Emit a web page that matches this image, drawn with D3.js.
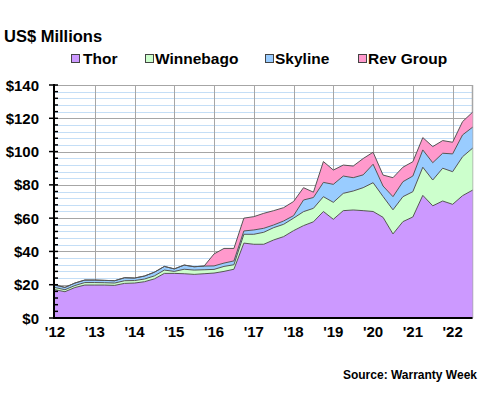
<!DOCTYPE html>
<html>
<head>
<meta charset="utf-8">
<script src="https://cdn.jsdelivr.net/npm/d3@7"></script>
<style>
  body { margin: 0; background: #fff; }
  svg { display: block; font-family: "Liberation Sans", Arial, sans-serif; font-weight: bold; }
</style>
</head>
<body>
<svg id="chart" width="480" height="400"></svg>
<script>
// ---- Data (US$ millions, quarterly) ----
const quarters = [2012, 2012.25, 2012.5, 2012.75, 2013, 2013.25, 2013.5, 2013.75, 2014, 2014.25,
  2014.5, 2014.75, 2015, 2015.25, 2015.5, 2015.75, 2016, 2016.25, 2016.5, 2016.75,
  2017, 2017.25, 2017.5, 2017.75, 2018, 2018.25, 2018.5, 2018.75, 2019, 2019.25,
  2019.5, 2019.75, 2020, 2020.25, 2020.5, 2020.75, 2021, 2021.25, 2021.5, 2021.75,
  2022, 2022.25, 2022.5];
const thor = [17.0, 15.8, 18.3, 19.8, 19.8, 19.8, 19.6, 20.8, 21.0, 21.8,
  23.5, 26.8, 26.8, 26.6, 26.2, 26.6, 27.0, 28.0, 29.3, 45.0,
  44.3, 44.3, 46.9, 48.9, 52.5, 55.5, 57.8, 64.0, 59.3, 64.5,
  64.9, 64.5, 64.0, 60.5, 50.5, 57.9, 60.7, 73.7, 67.4, 70.3,
  68.3, 73.5, 76.8];
const winnebago = [1.3, 1.2, 1.2, 1.5, 1.5, 1.4, 1.4, 1.6, 1.5, 1.6,
  1.8, 2.0, 1.2, 2.7, 2.6, 2.4, 2.2, 3.0, 2.7, 5.3,
  6.0, 7.2, 7.4, 7.4, 7.5, 8.4, 8.1, 8.9, 10.2, 10.4,
  11.4, 13.8, 17.3, 12.5, 14.5, 15.0, 15.2, 16.9, 15.5, 19.7,
  19.6, 23.4, 25.2];
const skyline = [1.5, 1.4, 1.5, 1.5, 1.5, 1.4, 1.4, 1.8, 1.5, 1.8,
  2.2, 2.2, 1.5, 2.5, 2.0, 2.2, 2.1, 2.0, 2.3, 2.0,
  2.6, 2.4, 1.6, 2.0, 1.5, 7.0, 6.5, 8.6, 10.8, 10.4,
  8.0, 7.7, 11.1, 6.3, 7.9, 9.0, 9.4, 10.4, 10.4, 9.0,
  10.7, 13.1, 12.6];
const revGroup = [0, 0, 0, 0, 0, 0, 0, 0, 0, 0,
  0, 0, 0, 0, 0, 0, 7.2, 8.8, 7.5, 7.7,
  8.0, 9.0, 8.6, 8.0, 8.5, 7.4, 3.2, 12.5, 8.6, 6.6,
  7.0, 9.8, 7.2, 6.6, 11.4, 8.7, 8.6, 7.4, 9.7, 7.6,
  7.0, 8.0, 9.0];
const seriesNames = ["Thor", "Winnebago", "Skyline", "Rev Group"];
const seriesColors = ["#cc99ff", "#ccffcc", "#99ccff", "#ff99cc"];
const yearTicks = [2012, 2013, 2014, 2015, 2016, 2017, 2018, 2019, 2020, 2021, 2022];
const yearLabels = ["'12", "'13", "'14", "'15", "'16", "'17", "'18", "'19", "'20", "'21", "'22"];
const yMajor = [0, 20, 40, 60, 80, 100, 120, 140];

// ---- Build table ----
const keys = seriesNames;
const cols = [thor, winnebago, skyline, revGroup];
const table = quarters.map((q, i) => {
  const row = { q };
  keys.forEach((k, j) => row[k] = cols[j][i]);
  return row;
});

const svg = d3.select("#chart");
const x = d3.scaleLinear().domain([2012, 2022.5]).range([55, 472.5]);
const y = d3.scaleLinear().domain([0, 140]).range([318, 85]);

// gridlines: minor every 4 (light blue), major every 20 (gray)
const minor = d3.range(0, 141, 4).filter(v => v % 20 !== 0);
svg.append("g").selectAll("line").data(minor).join("line")
  .attr("x1", x(2012)).attr("x2", x(2022.5))
  .attr("y1", d => Math.round(y(d)) + 0.5).attr("y2", d => Math.round(y(d)) + 0.5)
  .attr("stroke", "#c4def6").attr("stroke-width", 1);
svg.append("g").selectAll("line").data(yMajor).join("line")
  .attr("x1", x(2012)).attr("x2", x(2022.5))
  .attr("y1", d => Math.round(y(d)) + 0.5).attr("y2", d => Math.round(y(d)) + 0.5)
  .attr("stroke", "#a6a6a6").attr("stroke-width", 1);
svg.append("g").selectAll("line").data(yearTicks.slice(1)).join("line")
  .attr("x1", d => Math.round(x(d)) + 0.5).attr("x2", d => Math.round(x(d)) + 0.5)
  .attr("y1", y(140)).attr("y2", y(0))
  .attr("stroke", "#a6a6a6").attr("stroke-width", 1);
// right border
svg.append("line")
  .attr("x1", x(2022.5)).attr("x2", x(2022.5)).attr("y1", y(140)).attr("y2", y(0))
  .attr("stroke", "#a6a6a6").attr("stroke-width", 1.5);

// stacked areas
const stack = d3.stack().keys(keys);
const layers = stack(table);
const area = d3.area()
  .x(d => x(d.data.q)).y0(d => y(d[0])).y1(d => y(d[1]));
const topLine = d3.line().x(d => x(d.data.q)).y(d => y(d[1]));
const g = svg.append("g");
g.selectAll("path.area").data(layers).join("path")
  .attr("class", "area")
  .attr("d", area)
  .attr("fill", (d, i) => seriesColors[i]);
g.selectAll("path.edge").data(layers).join("path")
  .attr("class", "edge")
  .attr("d", topLine)
  .attr("fill", "none").attr("stroke", "#555").attr("stroke-width", 1)
  .attr("stroke-linejoin", "miter");

// y axis
const yAxisG = svg.append("g");
yAxisG.append("line").attr("x1", 54).attr("x2", 54).attr("y1", y(140) - 1).attr("y2", y(0) + 1)
  .attr("stroke", "#000").attr("stroke-width", 2);
yAxisG.selectAll("line.minor").data(minor).join("line").attr("class", "minor")
  .attr("x1", 54).attr("x2", 58).attr("y1", d => y(d)).attr("y2", d => y(d))
  .attr("stroke", "#000").attr("stroke-width", 1.5);
yAxisG.selectAll("line.major").data(yMajor).join("line").attr("class", "major")
  .attr("x1", 49).attr("x2", 58).attr("y1", d => y(d)).attr("y2", d => y(d))
  .attr("stroke", "#000").attr("stroke-width", 1.5);
yAxisG.selectAll("text").data(yMajor).join("text")
  .attr("x", 39).attr("y", d => y(d) + 5.5)
  .attr("text-anchor", "end").attr("font-size", 15).attr("fill", "#000")
  .text(d => "$" + d);

// x axis
svg.append("line").attr("x1", 53).attr("x2", x(2022.5)).attr("y1", y(0)).attr("y2", y(0))
  .attr("stroke", "#000").attr("stroke-width", 2);
svg.append("g").selectAll("text").data(yearTicks).join("text")
  .attr("x", d => x(d)).attr("y", 337)
  .attr("text-anchor", "middle").attr("font-size", 15).attr("fill", "#000")
  .text((d, i) => yearLabels[i]);

// title
svg.append("text").attr("x", 4).attr("y", 42).attr("font-size", 16.5).attr("fill", "#000")
  .text("US$ Millions");

// legend
const legX = [71, 145, 265, 358];
const leg = svg.append("g").selectAll("g").data(seriesNames).join("g")
  .attr("transform", (d, i) => `translate(${legX[i]},0)`);
leg.append("rect").attr("x", 0.5).attr("y", 54.5).attr("width", 8).attr("height", 8)
  .attr("fill", (d, i) => seriesColors[i]).attr("stroke", "#444").attr("stroke-width", 1);
leg.append("text").attr("x", (d, i) => i === 0 ? 12 : 10).attr("y", 64)
  .attr("font-size", 15.5).attr("fill", "#000").text(d => d);

// source
svg.append("text").attr("x", 477).attr("y", 379).attr("text-anchor", "end")
  .attr("font-size", 12).attr("fill", "#000").text("Source: Warranty Week");
</script>
</body>
</html>
